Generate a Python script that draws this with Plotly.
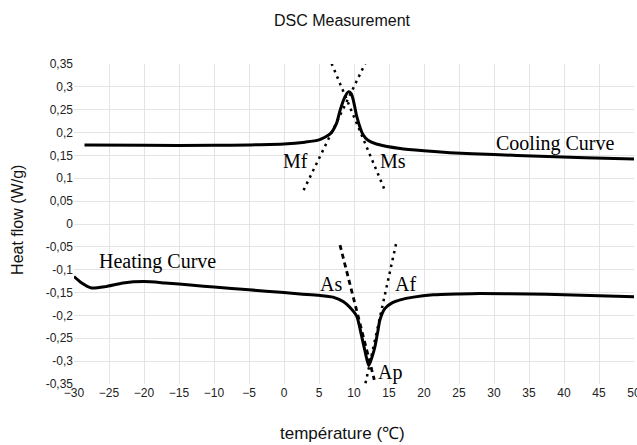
import plotly.graph_objects as go

# Cooling curve (temperature °C, heat flow W/g)
cool_x = [-28.5, -20, -10, -5, 0, 3, 5, 6.6, 7.5, 8.0, 8.7, 9.2, 9.6, 9.9, 10.4, 11.3, 12.0, 13.2, 16.6, 20, 23.7, 30, 36.6, 43, 50]
cool_y = [0.173, 0.172, 0.172, 0.173, 0.175, 0.179, 0.184, 0.197, 0.220, 0.248, 0.278, 0.289, 0.285, 0.271, 0.235, 0.195, 0.183, 0.175, 0.165, 0.160, 0.156, 0.152, 0.148, 0.145, 0.142]

# Heating curve
heat_x = [-30, -29, -27.5, -25.5, -23, -20, -17, -13, -10, -5, 0, 2.3, 5, 7, 8.5, 9.4, 10.4, 11.1, 11.6, 12.1, 12.6, 13.0, 13.4, 13.7, 14.4, 15.5, 16.6, 18.5, 21.3, 25, 28, 35, 40, 45, 50]
heat_y = [-0.115, -0.128, -0.140, -0.137, -0.129, -0.126, -0.129, -0.134, -0.138, -0.144, -0.150, -0.153, -0.156, -0.160, -0.170, -0.182, -0.202, -0.246, -0.280, -0.310, -0.290, -0.268, -0.235, -0.210, -0.185, -0.172, -0.166, -0.160, -0.155, -0.153, -0.152, -0.153, -0.155, -0.157, -0.159]

# Tangent construction lines
mf_x = [2.8, 11.6]
mf_y = [0.074, 0.351]
ms_x = [6.8, 14.4]
ms_y = [0.351, 0.074]
as_x = [8.0, 12.9]
as_y = [-0.046, -0.341]
af_x = [16.0, 11.6]
af_y = [-0.044, -0.351]

x_ticks = list(range(-30, 55, 5))
y_ticks = [round(-0.35 + 0.05 * i, 2) for i in range(15)]
y_tick_text = [("%g" % v).replace(".", ",") for v in y_ticks]

labels = [
    ("Cooling Curve", 38.7, 0.177),
    ("Heating Curve", -18.1, -0.081),
    ("Mf", 1.6, 0.138),
    ("Ms", 15.5, 0.138),
    ("As", 6.7, -0.131),
    ("Af", 17.3, -0.131),
    ("Ap", 15.1, -0.325),
]

fig = go.Figure()
line_dot = dict(color="black", width=2.5, dash="2.5px,4.5px")
fig.add_trace(go.Scatter(x=mf_x, y=mf_y, mode="lines", line=line_dot))
fig.add_trace(go.Scatter(x=ms_x, y=ms_y, mode="lines", line=line_dot))
fig.add_trace(go.Scatter(x=as_x, y=as_y, mode="lines", line=dict(color="black", width=2.8, dash="5px,4px")))
fig.add_trace(go.Scatter(x=af_x, y=af_y, mode="lines", line=line_dot))
fig.add_trace(go.Scatter(x=cool_x, y=cool_y, mode="lines", line=dict(color="black", width=3, shape="spline", smoothing=0.6)))
fig.add_trace(go.Scatter(x=heat_x, y=heat_y, mode="lines", line=dict(color="black", width=3, shape="spline", smoothing=0.6)))

for t, x, y in labels:
    fig.add_annotation(x=x, y=y, text=t, showarrow=False,
                       font=dict(family="Liberation Serif, Times New Roman, serif", size=20, color="black"))

sans = "Liberation Sans, Arial, sans-serif"
# Chart title and axis titles
fig.add_annotation(text="DSC Measurement", xref="paper", yref="paper", x=0.48, y=1.137,
                   showarrow=False, xanchor="center", yanchor="middle",
                   font=dict(family=sans, size=16, color="#111"))
fig.add_annotation(text="température (℃)", xref="paper", yref="paper", x=0.48, y=-0.156,
                   showarrow=False, xanchor="center", yanchor="middle",
                   font=dict(family=sans, size=17, color="#111"))
fig.add_annotation(text="Heat flow (W/g)", xref="paper", yref="paper", x=-0.102, y=0.5125,
                   showarrow=False, xanchor="center", yanchor="middle", textangle=-90,
                   font=dict(family=sans, size=16, color="#111"))

fig.update_layout(
    width=637, height=445,
    margin=dict(l=74, r=3, t=64, b=61, autoexpand=False),
    paper_bgcolor="white", plot_bgcolor="white",
    showlegend=False,
    font=dict(family=sans, color="#222"),
)
fig.update_xaxes(range=[-30, 50], tickvals=x_ticks, showgrid=True, gridcolor="#e4e4e4", gridwidth=1,
                 zeroline=False, showline=False, ticks="", automargin=False, ticklabeloverflow="allow",
                 tickfont=dict(size=12, color="#222"))
fig.update_yaxes(range=[-0.35, 0.35], tickvals=y_ticks, ticktext=y_tick_text, showgrid=True,
                 gridcolor="#e4e4e4", gridwidth=1, zeroline=False, showline=False, ticks="",
                 automargin=False, ticklabeloverflow="allow", tickfont=dict(size=12, color="#222"))

fig.write_html("out.html", config={"displayModeBar": False},
               post_script="document.body.style.margin='0';document.body.style.overflow='hidden';")
